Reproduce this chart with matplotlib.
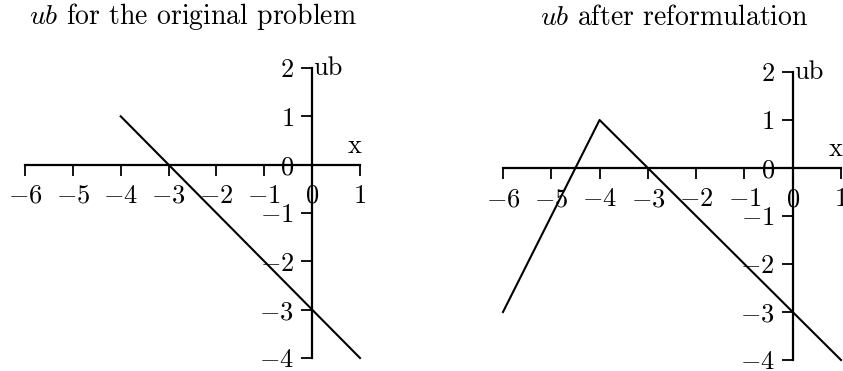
import matplotlib
matplotlib.use("Agg")
import matplotlib.pyplot as plt
from matplotlib.ticker import FuncFormatter

plt.rcParams['mathtext.fontset'] = 'cm'
plt.rcParams['font.family'] = ['cmr10', 'DejaVu Serif']
plt.rcParams['axes.unicode_minus'] = False

# upper bound ub(x), before and after reformulation
x_orig = [-4, 1]
ub_orig = [1, -4]
x_ref = [-6, -4, 1]
ub_ref = [-3, 1, -4]

xticks = [-6, -5, -4, -3, -2, -1, 0, 1]
yticks = [-4, -3, -2, -1, 0, 1, 2]


def setup(ax):
    ax.set_xlim(-6, 1)
    ax.set_ylim(-4, 2)
    for s in ['top', 'right']:
        ax.spines[s].set_visible(False)
    ax.spines['left'].set_position(('data', 0))
    ax.spines['bottom'].set_position(('data', 0))
    for s in ['left', 'bottom']:
        ax.spines[s].set_linewidth(1.6)
    ax.set_xticks(xticks)
    ax.set_yticks(yticks)
    fmt = FuncFormatter(lambda v, p: r'$%d$' % v)
    ax.xaxis.set_major_formatter(fmt)
    ax.yaxis.set_major_formatter(fmt)
    ax.tick_params(length=8, width=1.3, labelsize=19)
    ax.tick_params(axis='x', pad=6)
    ax.tick_params(axis='y', pad=5)
    ax.annotate('x', (1, 0), xytext=(-4, 5), textcoords='offset points',
                fontsize=19, ha='center', va='bottom', annotation_clip=False)
    ax.annotate('ub', (0, 2), xytext=(1, 0), textcoords='offset points',
                fontsize=19, ha='left', va='center', annotation_clip=False)
    ax.patch.set_visible(False)


fig = plt.figure(figsize=(8.43, 3.71), dpi=100)
ax1 = fig.add_axes([25/843, 13/371, 335/843, 290/371])
ax2 = fig.add_axes([503/843, 11/371, 338/843, 288/371])

setup(ax1)
ax1.plot(x_orig, ub_orig, color='black', lw=1.5, clip_on=False)
setup(ax2)
ax2.plot(x_ref, ub_ref, color='black', lw=1.5, clip_on=False)

fig.text(193/843, 1 - 16/371, r'$ub$ for the original problem',
         ha='center', va='center', fontsize=20)
fig.text(674/843, 1 - 18/371, r'$ub$ after reformulation',
         ha='center', va='center', fontsize=20)

fig.savefig('out.png', dpi=100)
